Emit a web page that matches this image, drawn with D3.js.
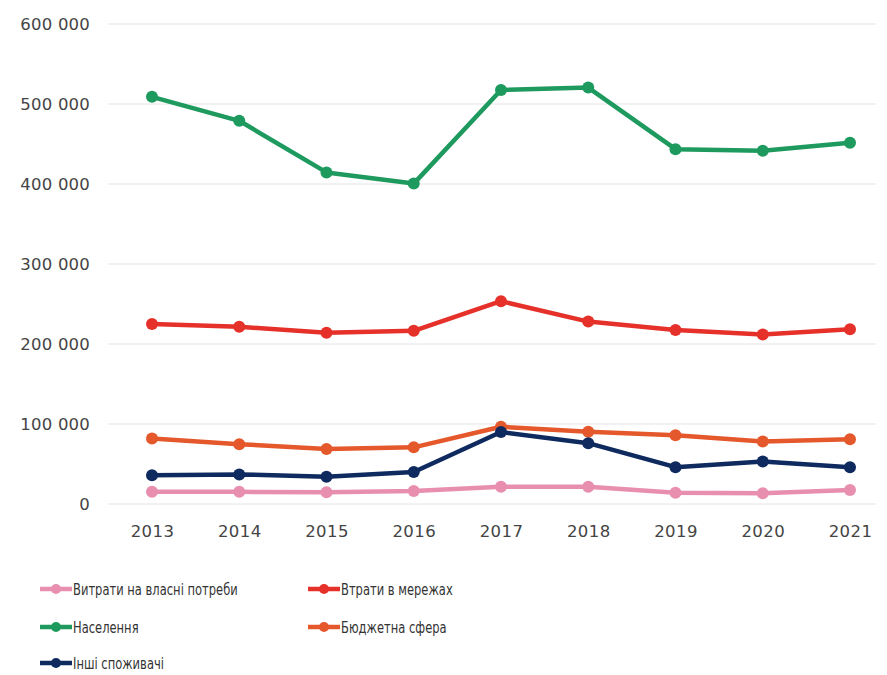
<!DOCTYPE html>
<html>
<head>
<meta charset="utf-8">
<script src="https://cdn.jsdelivr.net/npm/d3@7"></script>
<style>
  html, body { margin: 0; padding: 0; background: #fff; }
  svg { display: block; }
</style>
</head>
<body>
<svg id="chart" width="887" height="675"></svg>
<script>
// Years on the horizontal axis
const years = ["2013", "2014", "2015", "2016", "2017", "2018", "2019", "2020", "2021"];

// Series values
const ownNeeds   = [15400, 15200, 14600, 16200, 21700, 21600, 14000, 13500, 17500];
const gridLosses = [225000, 221500, 214000, 216500, 253500, 228000, 217500, 212000, 218500];
const households = [509000, 479000, 414500, 400500, 517500, 520500, 443500, 441500, 451500];
const budget     = [82000, 74800, 68800, 70800, 96500, 90400, 86000, 78000, 81000];
const others     = [36000, 37000, 34000, 40000, 90000, 76000, 46000, 53000, 46000];

// Axis ticks
const yTicks = [0, 100000, 200000, 300000, 400000, 500000, 600000];

const seriesNames = ["Витрати на власні потреби", "Втрати в мережах", "Населення", "Бюджетна сфера", "Інші споживачі"];
const seriesColors = ["#e88fb0", "#e5312a", "#1e9a5f", "#e4582c", "#0e2a5e"];
const seriesValues = [ownNeeds, gridLosses, households, budget, others];

const series = seriesNames.map((name, i) => ({ name, color: seriesColors[i], values: seriesValues[i] }));

const svg = d3.select("#chart");
const font = "'DejaVu Sans', sans-serif";

const x = d3.scalePoint().domain(years).range([152, 850]);
const y = d3.scaleLinear().domain([0, 600000]).range([504, 24]);

const gridLeft = 108, gridRight = 876;

// Horizontal gridlines
svg.append("g")
  .selectAll("line")
  .data(yTicks)
  .join("line")
  .attr("x1", gridLeft).attr("x2", gridRight)
  .attr("y1", d => y(d)).attr("y2", d => y(d))
  .attr("stroke", "#e6e6e6")
  .attr("stroke-width", 1.2);

// Y axis labels
const fmt = d => d === 0 ? "0" : d3.format(",")(d).replace(/,/g, " ");
const yAxis = svg.append("g")
  .attr("transform", `translate(${gridLeft},0)`)
  .call(d3.axisLeft(y).tickValues(yTicks).tickFormat(fmt).tickSize(0).tickPadding(18));
yAxis.select(".domain").remove();
yAxis.selectAll("text")
  .attr("font-family", font)
  .attr("font-size", 16.5)
  .attr("fill", "#444")
  .attr("letter-spacing", 0.2);

// X axis labels
const xAxis = svg.append("g")
  .attr("transform", `translate(0,${y(0)})`)
  .call(d3.axisBottom(x).tickSize(0).tickPadding(21));
xAxis.select(".domain").remove();
xAxis.selectAll("text")
  .attr("font-family", font)
  .attr("font-size", 16.5)
  .attr("fill", "#444")
  .attr("letter-spacing", 0.4);

// Lines and markers
const line = d3.line().x((d, i) => x(years[i])).y(d => y(d));

const g = svg.append("g");
series.forEach(s => {
  g.append("path")
    .datum(s.values)
    .attr("d", line)
    .attr("fill", "none")
    .attr("stroke", s.color)
    .attr("stroke-width", 4.5)
    .attr("stroke-linejoin", "round");
  g.append("g")
    .selectAll("circle")
    .data(s.values)
    .join("circle")
    .attr("cx", (d, i) => x(years[i]))
    .attr("cy", d => y(d))
    .attr("r", 6)
    .attr("fill", s.color);
});

// Legend
const legendPos = [
  { x: 40, y: 589 },
  { x: 308, y: 589 },
  { x: 40, y: 627 },
  { x: 308, y: 627 },
  { x: 40, y: 663 }
];
const legend = svg.append("g");
series.forEach((s, i) => {
  const p = legendPos[i];
  const item = legend.append("g").attr("transform", `translate(${p.x},${p.y})`);
  item.append("line")
    .attr("x1", 0).attr("x2", 32)
    .attr("y1", 0).attr("y2", 0)
    .attr("stroke", s.color).attr("stroke-width", 4.5);
  item.append("circle").attr("cx", 16).attr("cy", 0).attr("r", 5).attr("fill", s.color);
  // condensed label text
  item.append("text")
    .attr("transform", "translate(33,0) scale(0.72,1)")
    .attr("dy", "0.36em")
    .attr("font-family", font)
    .attr("font-size", 16)
    .attr("fill", "#333")
    .text(s.name);
});
</script>
</body>
</html>
